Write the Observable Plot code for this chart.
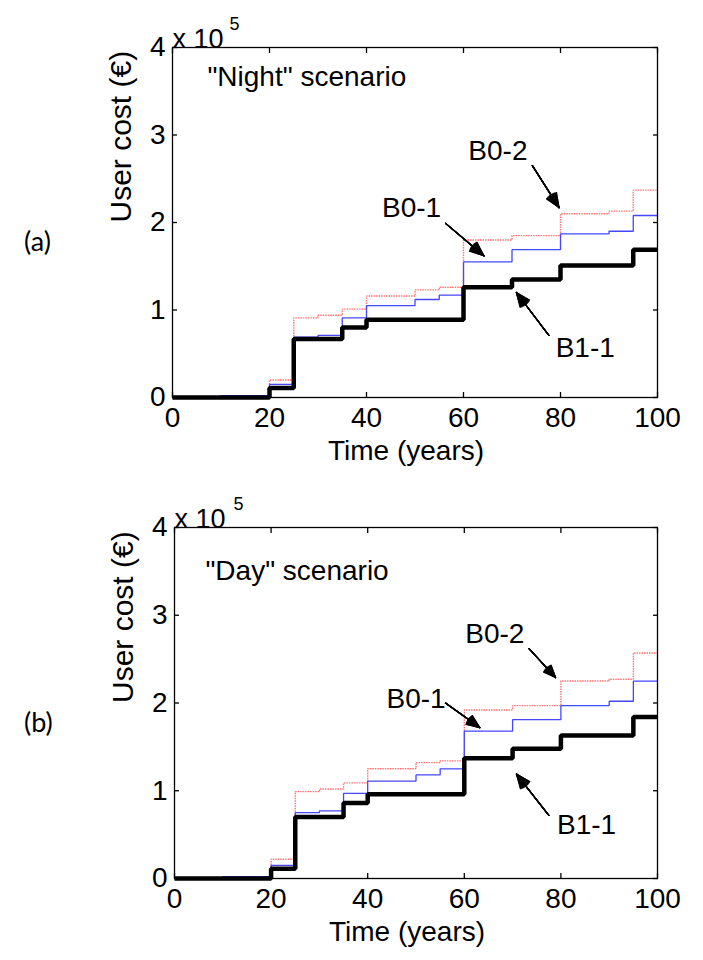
<!DOCTYPE html>
<html>
<head>
<meta charset="utf-8">
<script src="https://cdn.jsdelivr.net/npm/d3@7"></script>
<script src="https://cdn.jsdelivr.net/npm/@observablehq/plot@0.6"></script>
<style>
  body { margin: 0; background: white; }
  #chart { width: 703px; }
  #chart svg { display: block; }
</style>
</head>
<body>
<div id="chart"></div>
<script>
// ---- data (user cost in units of 10^5 €) ----
const years = [0, 10, 20, 25, 30, 35, 40, 50, 55, 60, 70, 80, 90, 95, 100];
const b11Years = [0, 20, 25, 35, 40, 60, 70, 80, 95, 100];

const nightB11 = [0, 0.11, 0.67, 0.80, 0.89, 1.26, 1.35, 1.51, 1.69, 1.69];
const nightB01 = [0, 0.02, 0.15, 0.69, 0.71, 0.91, 1.05, 1.12, 1.17, 1.55, 1.69, 1.87, 1.90, 2.08, 2.08];
const nightB02 = [0, 0.02, 0.20, 0.91, 0.94, 1.01, 1.16, 1.23, 1.26, 1.80, 1.85, 2.10, 2.13, 2.37, 2.37];

const dayB11 = [0, 0.11, 0.70, 0.86, 0.96, 1.37, 1.48, 1.63, 1.84, 1.84];
const dayB01 = [0, 0.02, 0.15, 0.75, 0.77, 0.97, 1.11, 1.18, 1.25, 1.68, 1.81, 1.97, 2.02, 2.25, 2.25];
const dayB02 = [0, 0.02, 0.22, 0.99, 1.02, 1.09, 1.25, 1.32, 1.34, 1.92, 1.97, 2.25, 2.27, 2.57, 2.57];

const xTicks = [0, 20, 40, 60, 80, 100];
const yTicks = [0, 1, 2, 3, 4];
const xLabel = "Time (years)";
const yLabel = "User cost (€)";
const exponentBase = "x 10";
const exponent = "5";

const seriesNames = ["B0-2", "B0-1", "B1-1"];
const nightLabelX = [61.0, 43.2, 79.0];
const nightLabelY = [2.82, 2.17, 0.56];
const dayLabelX = [60.2, 43.9, 79.2];
const dayLabelY = [2.79, 2.05, 0.61];

const nightArrowX1 = [74.2, 56.3, 77.6];
const nightArrowY1 = [2.65, 1.99, 0.71];
const nightArrowX2 = [79.7, 64.2, 70.9];
const nightArrowY2 = [2.17, 1.62, 1.20];
const dayArrowX1 = [73.4, 56.1, 77.5];
const dayArrowY1 = [2.62, 2.00, 0.72];
const dayArrowX2 = [78.9, 63.2, 70.8];
const dayArrowY2 = [2.29, 1.72, 1.19];

const scenarioNames = ["\"Night\" scenario", "\"Day\" scenario"];
const scenarioX = [7.2, 6.4];
const scenarioY = [3.66, 3.50];
const panelTags = ["(a)", "(b)"];

// ---- drawing ----
const FONT = '"Liberation Sans", Arial, sans-serif';
const pts = (t, v) => t.map((x, i) => ({x, y: v[i]}));

function panel(o) {
  const labels = seriesNames.map((t, i) => ({t, x: o.lx[i], y: o.ly[i]}));
  const arrows = seriesNames.map((t, i) => ({x1: o.ax1[i], y1: o.ay1[i], x2: o.ax2[i], y2: o.ay2[i]}));
  const headAngles = [6, 12, 18, 24, 30, 36, 42, 46];
  const lineOpts = {x: "x", y: "y", curve: "step-after", strokeLinejoin: "miter", strokeLinecap: "butt"};
  const fmt = d => String(d);
  return Plot.plot({
    width: 703,
    height: 480,
    marginLeft: o.ml,
    marginRight: 46,
    marginTop: 47,
    marginBottom: o.mb,
    style: {fontFamily: FONT, fontSize: "28px", background: "white", overflow: "visible", color: "black"},
    x: {domain: [0, 100], ticks: xTicks, label: null},
    y: {domain: [0, 4], ticks: yTicks, label: null},
    marks: [
      Plot.line(pts(years, o.b02), {...lineOpts, stroke: "#ff7474", strokeWidth: 1.4, strokeDasharray: "1.5 1"}),
      Plot.line(pts(years, o.b01), {...lineOpts, stroke: "#4646ff", strokeWidth: 1.3}),
      Plot.line(pts(b11Years, o.b11), {...lineOpts, stroke: "black", strokeWidth: 4.5}),
      Plot.frame({stroke: "black", strokeWidth: 1.3}),
      Plot.axisX(xTicks, {anchor: "bottom", tickSize: 0, tickPadding: 10, label: null, tickFormat: fmt, fontSize: 28}),
      Plot.axisX(xTicks, {anchor: "bottom", tickSize: -5, text: null, label: null, strokeWidth: 1.3}),
      Plot.axisX(xTicks, {anchor: "top", tickSize: -5, text: null, label: null, strokeWidth: 1.3}),
      Plot.axisY(yTicks, {anchor: "left", tickSize: 0, tickPadding: 7, label: null, tickFormat: fmt, fontSize: 28}),
      Plot.axisY(yTicks, {anchor: "left", tickSize: -5, text: null, label: null, strokeWidth: 1.3}),
      Plot.axisY(yTicks, {anchor: "right", tickSize: -5, text: null, label: null, strokeWidth: 1.3}),
      Plot.text([scenarioNames[o.k]], {x: () => scenarioX[o.k], y: () => scenarioY[o.k], text: d => d, textAnchor: "start", fontSize: 28}),
      Plot.text(labels, {x: "x", y: "y", text: "t", textAnchor: "start", fontSize: 28}),
      Plot.arrow(arrows, {x1: "x1", y1: "y1", x2: "x2", y2: "y2", stroke: "black", strokeWidth: 1, headLength: 0, bend: 0}),
      ...headAngles.map(a => Plot.arrow(arrows, {x1: "x1", y1: "y1", x2: "x2", y2: "y2", stroke: "black", strokeWidth: 1.2, headAngle: a, headLength: 19})),
      Plot.text([xLabel], {frameAnchor: "bottom", dy: 62, dx: -9, text: d => d, fontSize: 28}),
      Plot.text([yLabel], {frameAnchor: "left", rotate: -90, dx: -51, text: d => d, fontSize: 30}),
      Plot.text([panelTags[o.k]], {frameAnchor: "left", dx: o.tagDx, dy: 20, text: d => d, fontSize: 27, fontFamily: "Lato, 'Open Sans', sans-serif"}),
      Plot.text([exponentBase], {frameAnchor: "top-left", textAnchor: "start", dy: -19, text: d => d, fontSize: 27}),
      Plot.text([exponent], {frameAnchor: "top-left", dx: o.expDx, dy: -30, text: d => d, fontSize: 18})
    ]
  });
}

const chart = document.getElementById("chart");
chart.appendChild(panel({
  k: 0, ml: 172, mb: 83, tagDx: -148.5, expDx: 57,
  b11: nightB11, b01: nightB01, b02: nightB02,
  lx: nightLabelX, ly: nightLabelY,
  ax1: nightArrowX1, ay1: nightArrowY1, ax2: nightArrowX2, ay2: nightArrowY2
}));
chart.appendChild(panel({
  k: 1, ml: 174, mb: 82, tagDx: -150.5, expDx: 59,
  b11: dayB11, b01: dayB01, b02: dayB02,
  lx: dayLabelX, ly: dayLabelY,
  ax1: dayArrowX1, ay1: dayArrowY1, ax2: dayArrowX2, ay2: dayArrowY2
}));
</script>
</body>
</html>
